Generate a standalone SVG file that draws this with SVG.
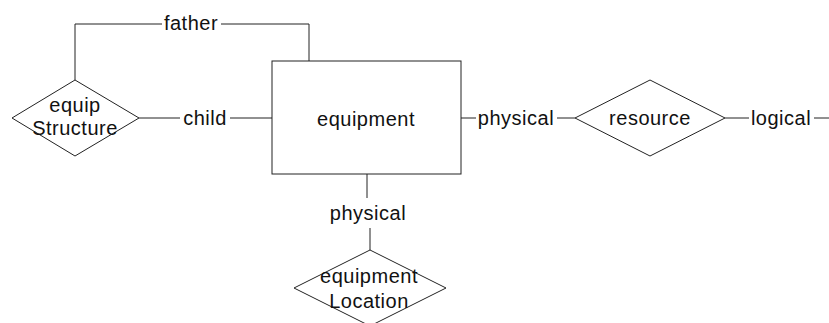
<svg xmlns="http://www.w3.org/2000/svg" width="829" height="323" viewBox="0 0 829 323">
<style>
.shape{fill:#fff;stroke:#222;stroke-width:1}
.ln{fill:none;stroke:#222;stroke-width:1}
text{font-family:"Liberation Sans",Arial,sans-serif;font-size:20px;fill:#111;text-anchor:middle;letter-spacing:0.5px}
</style>
<rect width="829" height="323" fill="#fff"/>
<g id="connectors">
<polyline class="ln" points="75,80 75,24 162,24"/>
<polyline class="ln" points="221,24 309,24 309,61"/>
<line class="ln" x1="139" y1="118" x2="180" y2="118"/>
<line class="ln" x1="230" y1="118" x2="272" y2="118"/>
<line class="ln" x1="461" y1="118" x2="476" y2="118"/>
<line class="ln" x1="557" y1="118" x2="575" y2="118"/>
<line class="ln" x1="725" y1="118" x2="749" y2="118"/>
<line class="ln" x1="814" y1="118" x2="829" y2="118"/>
<line class="ln" x1="367" y1="174" x2="367" y2="198"/>
<line class="ln" x1="370" y1="228" x2="370" y2="250"/>
<text x="191" y="30">father</text>
<text x="205" y="125">child</text>
<text x="516" y="125">physical</text>
<text x="781" y="125">logical</text>
<text x="368" y="220">physical</text>
</g>
<g id="equipStructure">
<polygon class="shape" points="75,80 139,118 75,156 12,118"/>
<text x="75" y="112">equip</text>
<text x="75" y="135">Structure</text>
</g>
<g id="equipment">
<rect class="shape" x="272" y="61" width="189" height="113"/>
<text x="366" y="126">equipment</text>
</g>
<g id="resource">
<polygon class="shape" points="650,80 725,118 650,156 575,118"/>
<text x="650" y="125">resource</text>
</g>
<g id="equipmentLocation">
<polygon class="shape" points="370,250 446,288 370,326 294,288"/>
<text x="369" y="283">equipment</text>
<text x="369" y="308">Location</text>
</g>
</svg>
